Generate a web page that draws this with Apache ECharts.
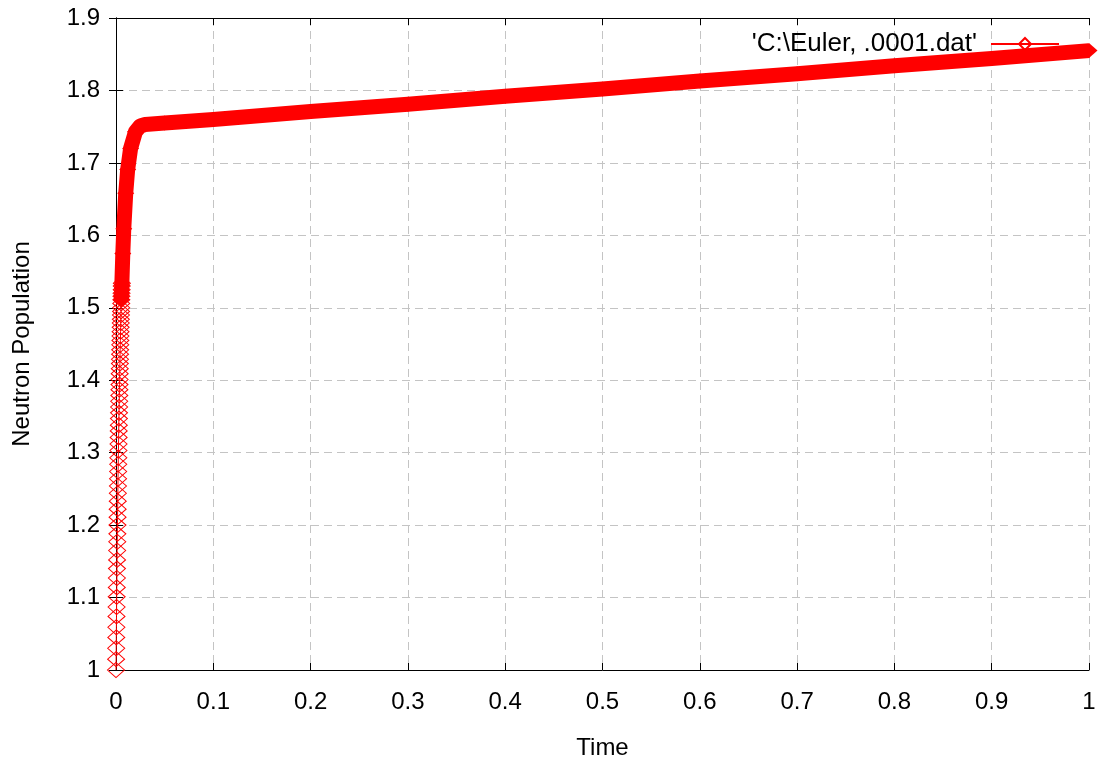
<!DOCTYPE html>
<html>
<head>
<meta charset="utf-8" />
<title>Neutron Population</title>
<script src="https://cdn.jsdelivr.net/npm/echarts@6/dist/echarts.min.js"></script>
<style>
  html, body { margin: 0; padding: 0; background: #fff; }
  #chart { width: 1101px; height: 767px; }
</style>
</head>
<body>
<div id="chart"></div>
<script type="text/javascript">
// first Euler steps (dt = .0001), each marker still visible on its own
var riseTime = [0, 0.0001, 0.0002, 0.0003, 0.0004, 0.0005, 0.0006, 0.0007, 0.0008, 0.0009,
    0.0010, 0.0011, 0.0012, 0.0013, 0.0014, 0.0015, 0.0016, 0.0017, 0.0018, 0.0019,
    0.0020, 0.0021, 0.0022, 0.0023, 0.0024, 0.0025, 0.0026, 0.0027, 0.0028, 0.0029,
    0.0030, 0.0031, 0.0032, 0.0033, 0.0034, 0.0035, 0.0036, 0.0037, 0.0038, 0.0039,
    0.0040, 0.0041, 0.0042, 0.0043, 0.0044, 0.0045, 0.0046, 0.0047, 0.0048, 0.0049,
    0.0050, 0.0051, 0.0052, 0.0053, 0.0054, 0.0055, 0.0056, 0.0057, 0.0058, 0.0059, 0.0060];
var riseN = [1.000, 1.015, 1.030, 1.045, 1.059, 1.074, 1.087, 1.101, 1.114, 1.127,
    1.140, 1.152, 1.165, 1.177, 1.188, 1.200, 1.211, 1.222, 1.233, 1.244,
    1.254, 1.264, 1.274, 1.284, 1.293, 1.303, 1.312, 1.321, 1.330, 1.338,
    1.347, 1.355, 1.363, 1.371, 1.379, 1.387, 1.394, 1.401, 1.409, 1.416,
    1.423, 1.429, 1.436, 1.442, 1.449, 1.455, 1.461, 1.467, 1.473, 1.479,
    1.484, 1.490, 1.495, 1.500, 1.506, 1.511, 1.516, 1.520, 1.525, 1.530, 1.534];

// rest of the run: markers overlap into a solid band
var bandTime = [0.0055, 0.007, 0.008, 0.010, 0.012, 0.015, 0.020, 0.025, 0.030, 0.05,
    0.1, 0.2, 0.3, 0.4, 0.5, 0.6, 0.7, 0.8, 0.9, 1.0];
var bandN = [1.511, 1.575, 1.609, 1.658, 1.691, 1.720, 1.743, 1.751, 1.753, 1.755,
    1.760, 1.771, 1.781, 1.792, 1.802, 1.813, 1.823, 1.834, 1.844, 1.855];

var seriesName = "'C:\\Euler, .0001.dat'";
var red = '#ff0000';

function pairs(xs, ys) {
    var out = [];
    for (var i = 0; i < xs.length; i++) {
        out.push([xs[i], ys[i]]);
    }
    return out;
}

var myChart = echarts.init(document.getElementById('chart'));

var gridLine = {
    show: true,
    lineStyle: { color: '#c4c4c4', type: [8, 5], width: 1 }
};
var axisLine = { show: true, lineStyle: { color: '#000', width: 1 } };
var labelFont = { fontFamily: 'Liberation Sans, Arial, sans-serif', fontSize: 24, color: '#000' };

myChart.setOption({
    animation: false,
    backgroundColor: '#fff',
    grid: { left: 116, right: 12, top: 18, bottom: 97, containLabel: false },
    legend: {
        data: [seriesName],
        right: 36,
        top: 26,
        align: 'right',
        itemWidth: 68,
        itemHeight: 15,
        textStyle: {
            fontFamily: 'Liberation Sans, Arial, sans-serif',
            fontSize: 26,
            color: '#000',
            padding: [0, 9, 0, 0]
        }
    },
    xAxis: [{
        type: 'value',
        min: 0,
        max: 1,
        interval: 0.1,
        name: 'Time',
        nameLocation: 'middle',
        nameGap: 66,
        nameTextStyle: labelFont,
        axisLine: axisLine,
        axisTick: { show: true, inside: true, length: 7, lineStyle: { color: '#000' } },
        axisLabel: Object.assign({ margin: 20 }, labelFont),
        splitLine: gridLine
    }, {
        type: 'value',
        position: 'top',
        min: 0,
        max: 1,
        interval: 0.1,
        axisLine: axisLine,
        axisTick: { show: true, inside: true, length: 7, lineStyle: { color: '#000' } },
        axisLabel: { show: false },
        splitLine: { show: false }
    }],
    yAxis: [{
        type: 'value',
        min: 1,
        max: 1.9,
        interval: 0.1,
        name: 'Neutron Population',
        nameLocation: 'middle',
        nameGap: 82,
        nameRotate: 90,
        nameTextStyle: labelFont,
        axisLine: axisLine,
        axisTick: { show: true, inside: true, length: 7, lineStyle: { color: '#000' } },
        axisLabel: Object.assign({ margin: 16 }, labelFont),
        splitLine: gridLine
    }, {
        type: 'value',
        position: 'right',
        min: 1,
        max: 1.9,
        interval: 0.1,
        axisLine: axisLine,
        axisTick: { show: true, inside: true, length: 7, lineStyle: { color: '#000' } },
        axisLabel: { show: false },
        splitLine: { show: false }
    }],
    series: [{
        name: 'band',
        type: 'line',
        data: pairs(bandTime, bandN),
        clip: false,
        symbol: 'diamond',
        symbolSize: [17, 15],
        showAllSymbol: true,
        itemStyle: { color: red },
        lineStyle: { color: red, width: 15, join: 'round', cap: 'butt' },
        z: 2
    }, {
        name: seriesName,
        type: 'line',
        data: pairs(riseTime, riseN),
        clip: false,
        symbol: 'diamond',
        symbolSize: [17, 15],
        showAllSymbol: true,
        itemStyle: { color: 'rgba(255,255,255,0)', borderColor: red, borderWidth: 1 },
        lineStyle: { color: red, width: 1 },
        z: 3
    }]
});
</script>
</body>
</html>
